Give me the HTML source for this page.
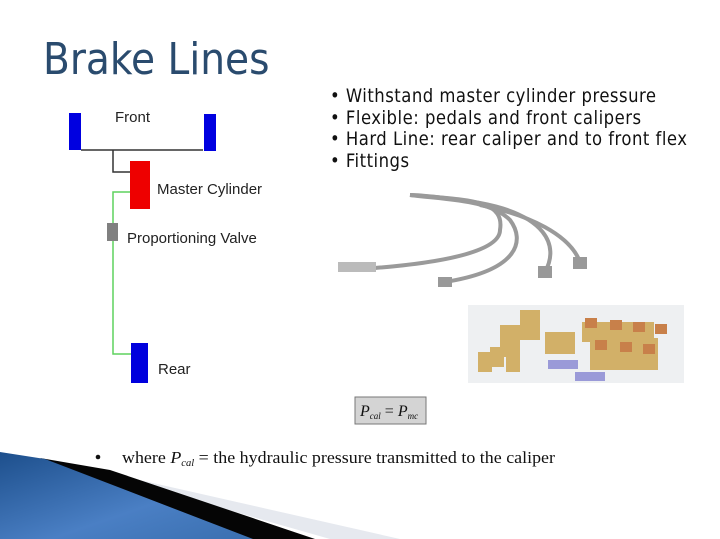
<!DOCTYPE html>
<html><head><meta charset="utf-8"><style>
body{margin:0;width:720px;height:539px;background:#fff;position:relative;overflow:hidden;font-family:"Liberation Sans",sans-serif}
.a{position:absolute;white-space:nowrap}
.t{font-family:"DejaVu Sans Condensed","DejaVu Sans",sans-serif;}
</style></head><body>
<div class="a t" style="left:43px;top:35px;font-size:43.5px;color:#2a4b6e">Brake Lines</div>
<div class="a t" style="left:330px;top:86px;font-size:18.3px;line-height:21.5px;letter-spacing:0.5px;color:#111">• Withstand master cylinder pressure<br>• Flexible: pedals and front calipers<br>• Hard Line: rear caliper and to front flex<br>• Fittings</div>

<svg class="a" style="left:0;top:0" width="720" height="539">
<defs>
<linearGradient id="bl" x1="0" y1="0" x2="1" y2="1"><stop offset="0" stop-color="#1d4f8c"/><stop offset="0.6" stop-color="#4a7fc4"/><stop offset="1" stop-color="#3a6fb0"/></linearGradient>
</defs>
<polyline points="81,150 203,150" stroke="#333" stroke-width="1.5" fill="none"/>
<polyline points="113,150 113,172 130,172" stroke="#333" stroke-width="1.5" fill="none"/>
<polyline points="130,192 113,192 113,354 131,354" stroke="#5ed25e" stroke-width="1.5" fill="none"/>
<rect x="69" y="113" width="12" height="37" fill="#0000e0"/>
<rect x="204" y="114" width="12" height="37" fill="#0000e0"/>
<rect x="130" y="161" width="20" height="48" fill="#ee0000"/>
<rect x="107" y="223" width="11" height="18" fill="#808080"/>
<rect x="131" y="343" width="17" height="40" fill="#0000dd"/>
<text x="115" y="122" font-size="15" fill="#222">Front</text>
<text x="157" y="194" font-size="15" fill="#222">Master Cylinder</text>
<text x="127" y="243" font-size="15" fill="#222">Proportioning Valve</text>
<text x="158" y="374" font-size="15" fill="#222">Rear</text>
<g fill="none" stroke="#9a9a9a" stroke-width="4">
<path d="M375,268 C450,262 500,250 500,230 C505,200 470,200 410,195"/>
<path d="M445,282 C520,270 525,240 510,220 C490,200 450,200 410,195"/>
<path d="M545,272 C560,245 545,215 480,203 C450,198 420,195 410,195"/>
<path d="M580,262 C570,235 530,215 480,205"/>
</g>
<rect x="338" y="262" width="38" height="10" fill="#bbb"/>
<rect x="438" y="277" width="14" height="10" fill="#999"/>
<rect x="538" y="266" width="14" height="12" fill="#999"/>
<rect x="573" y="257" width="14" height="12" fill="#999"/>
<rect x="468" y="305" width="216" height="78" fill="#eef0f2"/>
<g fill="#d2b068">
<rect x="500" y="325" width="20" height="32"/><rect x="520" y="310" width="20" height="30"/>
<rect x="545" y="332" width="30" height="22"/><rect x="478" y="352" width="14" height="20"/>
<rect x="490" y="347" width="14" height="20"/><rect x="506" y="352" width="14" height="20"/>
<rect x="590" y="338" width="68" height="32"/>
<rect x="582" y="322" width="72" height="20"/>
</g>
<g fill="#c8804a"><rect x="585" y="318" width="12" height="10"/><rect x="610" y="320" width="12" height="10"/><rect x="633" y="322" width="12" height="10"/><rect x="655" y="324" width="12" height="10"/><rect x="595" y="340" width="12" height="10"/><rect x="620" y="342" width="12" height="10"/><rect x="643" y="344" width="12" height="10"/></g>
<rect x="548" y="360" width="30" height="9" fill="#9a9ad8"/><rect x="575" y="372" width="30" height="9" fill="#9a9ad8"/>
<rect x="355" y="397" width="71" height="27" fill="#d4d4d4" stroke="#777" stroke-width="1"/>
<text x="360" y="416" font-family="Liberation Serif,serif" font-style="italic" font-size="16" fill="#111">P<tspan font-size="9" dy="3">cal</tspan><tspan dy="-3" font-style="normal"> = </tspan>P<tspan font-size="9" dy="3">mc</tspan></text>
<circle cx="98" cy="457" r="2.3" fill="#111"/>
<text x="122" y="463" font-family="Liberation Serif,serif" font-size="17" fill="#111" textLength="433" lengthAdjust="spacingAndGlyphs">where <tspan font-style="italic">P</tspan><tspan font-style="italic" font-size="10" dy="3">cal</tspan><tspan dy="-3"> = the hydraulic pressure transmitted to the caliper</tspan></text>
<polygon points="60,462 400,539 330,539" fill="#e6e9ef"/>
<polygon points="40,458 110,470 315,539 250,539" fill="#050505"/>
<polygon points="0,452 45,459 253,539 0,539" fill="url(#bl)"/>
</svg>
</body></html>
